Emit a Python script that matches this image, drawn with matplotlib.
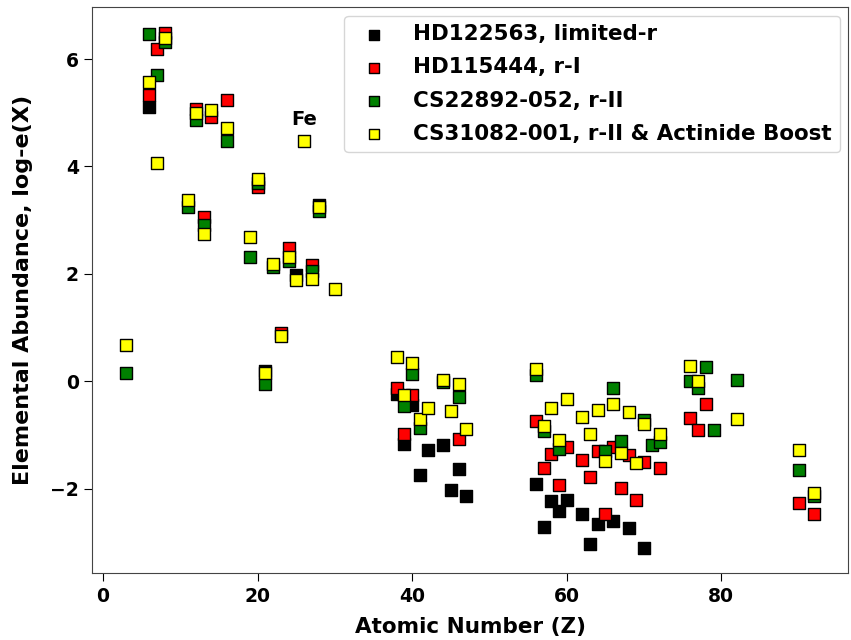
import matplotlib
matplotlib.use("Agg")
import matplotlib.pyplot as plt

plt.rcParams['font.weight'] = 'bold'
plt.rcParams['axes.labelweight'] = 'bold'

# HD122563, limited-r
z_hd122563 = [6, 21, 25, 28, 38, 39, 40, 41, 42, 44, 45, 46, 47,
              56, 57, 58, 59, 60, 62, 63, 64, 66, 68, 70]
ab_hd122563 = [5.11, 0.20, 1.97, 3.29, -0.23, -1.17, -0.45, -1.75, -1.28, -1.18, -2.02, -1.63, -2.14,
               -1.91, -2.71, -2.24, -2.41, -2.21, -2.47, -3.03, -2.65, -2.60, -2.74, -3.10]

# HD115444, r-I
z_hd115444 = [6, 7, 8, 12, 13, 14, 16, 20, 23, 24, 27, 38, 39, 40, 46,
              56, 57, 58, 59, 60, 62, 63, 64, 65, 66, 67, 68, 69, 70, 72,
              76, 77, 78, 90, 92]
ab_hd115444 = [5.33, 6.19, 6.49, 5.08, 3.06, 4.93, 5.23, 3.61, 0.90, 2.49, 2.16, -0.12, -0.98, -0.25, -1.07,
               -0.74, -1.61, -1.35, -1.94, -1.23, -1.46, -1.78, -1.30, -2.47, -1.23, -1.98, -1.37, -2.21, -1.51, -1.61,
               -0.68, -0.90, -0.42, -2.27, -2.47]

# CS22892-052, r-II
z_cs22892 = [3, 6, 7, 8, 11, 12, 13, 16, 19, 20, 21, 22, 24, 27, 28,
             39, 40, 41, 44, 46, 56, 57, 59, 65, 66, 67, 70, 71, 72,
             76, 77, 78, 79, 82, 90, 92]
ab_cs22892 = [0.15, 6.47, 5.70, 6.31, 3.25, 4.87, 2.91, 4.47, 2.32, 3.70, -0.05, 2.12, 2.24, 2.05, 3.18,
              -0.47, 0.14, -0.87, -0.02, -0.30, 0.12, -0.92, -1.26, -1.30, -0.12, -1.12, -0.72, -1.18, -1.13,
              0.00, -0.12, 0.26, -0.90, 0.03, -1.65, -2.14]

# CS31082-001, r-II & Actinide Boost
z_cs31082 = [3, 6, 7, 8, 11, 12, 13, 14, 16, 19, 20, 21, 22, 23, 24, 25, 26, 27, 28, 30,
             38, 39, 40, 41, 42, 44, 45, 46, 47,
             56, 57, 58, 59, 60, 62, 63, 64, 65, 66, 67, 68, 69, 70, 72,
             76, 77, 82, 90, 92]
ab_cs31082 = [0.67, 5.58, 4.07, 6.40, 3.37, 4.99, 2.75, 5.06, 4.71, 2.68, 3.77, 0.15, 2.18, 0.85, 2.32, 1.88, 4.48, 1.91, 3.24, 1.71,
              0.46, -0.26, 0.34, -0.70, -0.49, 0.03, -0.56, -0.06, -0.89,
              0.23, -0.83, -0.50, -1.09, -0.33, -0.67, -0.99, -0.53, -1.49, -0.42, -1.34, -0.58, -1.53, -0.79, -0.99,
              0.29, 0.00, -0.70, -1.28, -2.09]

fig = plt.figure(figsize=(8.51, 6.40), dpi=100)
ax = fig.add_axes([0.108, 0.104, 0.889, 0.885])

ms = 75
ax.scatter(z_hd122563, ab_hd122563, s=ms, marker='s', c='black', edgecolors='black', label='HD122563, limited-r')
ax.scatter(z_hd115444, ab_hd115444, s=ms, marker='s', c='red', edgecolors='black', label='HD115444, r-I')
ax.scatter(z_cs22892, ab_cs22892, s=ms, marker='s', c='green', edgecolors='black', label='CS22892-052, r-II')
ax.scatter(z_cs31082, ab_cs31082, s=ms, marker='s', c='yellow', edgecolors='black',
           label='CS31082-001, r-II & Actinide Boost')

ax.text(26, 4.88, 'Fe', ha='center', va='center', fontsize=14, fontweight='bold')

ax.set_xlim(-1.45, 96.45)
ax.set_ylim(-3.58, 6.97)
ax.set_xticks([0, 20, 40, 60, 80])
ax.set_yticks([-2, 0, 2, 4, 6])
ax.tick_params(labelsize=13.5, length=6)
for sp in ax.spines.values():
    sp.set_color('#444444')

ax.set_xlabel('Atomic Number (Z)', fontsize=15.5, labelpad=8)
ax.set_ylabel('Elemental Abundance, log-e(X)', fontsize=16, labelpad=12)

ax.legend(loc='upper right', prop={'weight': 'bold', 'size': 15.4},
          markerscale=0.85, borderaxespad=0.4, labelspacing=0.62)

fig.savefig('out.png', dpi=100)
